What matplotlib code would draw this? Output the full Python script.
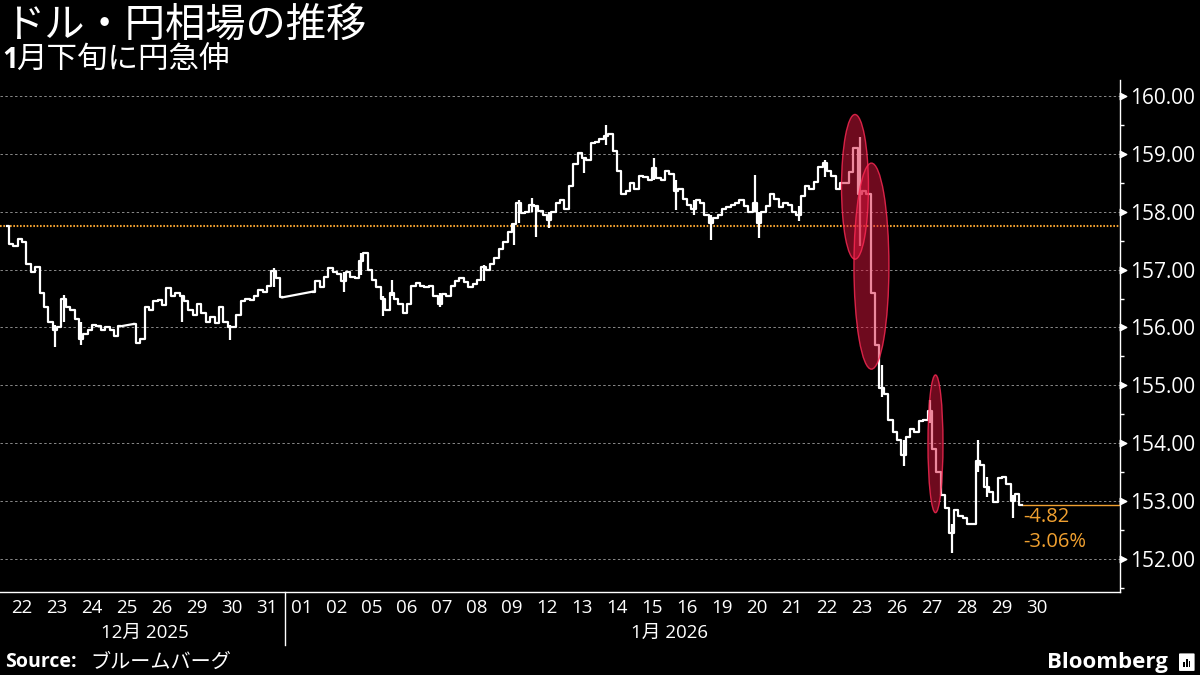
import matplotlib as mpl
mpl.use("Agg")
import matplotlib.pyplot as plt
from matplotlib.patches import Ellipse, FancyBboxPatch, Rectangle
from matplotlib.transforms import blended_transform_factory
import numpy as np

# USD/JPY, 8 intraday samples per trading day (None = no trading)
dec22 = [157.76, 157.45, 157.40, 157.52, 157.48, 157.10, 156.95, 157.05]
dec23 = [156.60, 156.35, 156.10, 155.95, 156.00, 156.50, 156.35, 156.30]
dec24 = [156.15, 155.80, 155.88, 155.95, 156.05, 156.02, 155.95, 156.00]
dec25 = [155.95, 155.85, 156.02, None, None, 156.06, 155.73, 155.80]
dec26 = [156.35, 156.30, 156.45, 156.48, 156.38, 156.68, 156.55, 156.60]
dec29 = [156.55, 156.45, 156.30, 156.22, 156.40, 156.25, 156.10, 156.18]
dec30 = [156.08, 156.35, 156.10, 156.00, 156.00, 156.22, 156.45, 156.50]
dec31 = [156.48, 156.55, 156.65, 156.62, 156.72, 156.98, 156.85, 156.52]
jan01 = [None, None, None, None, None, None, 156.62, 156.80]
jan02 = [156.70, 156.88, 157.02, 156.95, 156.92, 156.80, 156.95, 156.88]
jan05 = [156.85, 157.15, 157.28, 157.00, 156.82, 156.70, 156.50, 156.30]
jan06 = [156.60, 156.50, 156.40, 156.25, 156.40, 156.72, 156.77, 156.72]
jan07 = [156.70, 156.72, 156.55, 156.40, 156.58, 156.55, 156.72, 156.80]
jan08 = [156.85, 156.78, 156.70, 156.75, 156.82, 157.05, 157.00, 157.10]
jan09 = [157.20, 157.35, 157.48, 157.65, 157.78, 158.15, 157.98, 158.00]
jan12 = [158.12, 158.10, 158.02, 157.95, 157.85, 158.00, 158.15, 158.20]
jan13 = [158.05, 158.45, 158.82, 159.02, 158.92, 158.90, 159.18, 159.20]
jan14 = [159.25, 159.30, 159.35, 159.05, 158.70, 158.30, 158.35, 158.50]
jan15 = [158.40, 158.62, 158.60, 158.55, 158.75, 158.58, 158.55, 158.70]
jan16 = [158.65, 158.35, 158.40, 158.22, 158.12, 158.05, 158.20, 158.15]
jan19 = [157.95, 157.80, 157.90, 157.95, 158.05, 158.08, 158.12, 158.15]
jan20 = [158.20, 158.10, 158.00, 158.15, 157.80, 158.00, 158.10, 158.30]
jan21 = [158.22, 158.08, 158.15, 158.12, 158.00, 157.95, 158.28, 158.45]
jan22 = [158.40, 158.52, 158.78, 158.85, 158.70, 158.62, 158.40, 158.50]
jan23 = [158.50, 158.68, 159.10, 158.30, 158.35, 158.30, 156.60, 155.70]
jan26 = [154.95, 154.85, 154.40, 154.20, 154.05, 153.80, 154.10, 154.25]
jan27 = [154.20, 154.38, 154.40, 154.55, 153.90, 153.50, 153.10, 152.88]
jan28 = [152.45, 152.85, 152.75, 152.70, 152.60, 152.60, 153.70, 153.62]
jan29 = [153.25, 153.15, 152.98, 153.40, 153.42, 153.30, 153.00, 153.12]
jan30 = [152.94]

days = [dec22, dec23, dec24, dec25, dec26, dec29, dec30, dec31,
        jan01, jan02, jan05, jan06, jan07, jan08, jan09, jan12, jan13,
        jan14, jan15, jan16, jan19, jan20, jan21, jan22, jan23, jan26,
        jan27, jan28, jan29, jan30]
day_labels = ["22", "23", "24", "25", "26", "29", "30", "31",
              "01", "02", "05", "06", "07", "08", "09", "12", "13",
              "14", "15", "16", "19", "20", "21", "22", "23", "26",
              "27", "28", "29", "30"]
months = ["12月 2025", "1月 2026"]
month_first_day = [0, 8]
slots = 8

# intraday extremes: (day index, slot, low, high)
wicks = [(1, 3, 155.66, 156.05), (1, 5, 156.10, 156.56), (2, 1, 155.70, 156.10),
         (5, 0, 156.10, 156.56), (6, 3, 155.78, 156.05), (7, 5, 156.70, 157.03),
         (9, 5, 156.62, 156.95), (10, 1, 156.90, 157.29), (10, 6, 156.20, 156.55),
         (11, 0, 156.55, 156.82), (12, 3, 156.36, 156.60), (13, 5, 156.80, 157.08),
         (14, 4, 157.43, 157.80), (14, 5, 157.80, 158.20), (15, 0, 158.00, 158.24),
         (15, 1, 157.56, 158.12), (15, 4, 157.72, 158.00), (16, 4, 158.67, 158.95),
         (17, 1, 159.15, 159.50), (18, 4, 158.55, 158.93), (19, 1, 158.03, 158.55),
         (19, 5, 157.95, 158.20), (20, 1, 157.51, 157.95), (21, 3, 158.00, 158.64),
         (21, 4, 157.55, 158.00), (22, 5, 157.84, 158.10), (23, 3, 158.60, 158.90),
         (24, 3, 157.40, 159.29), (25, 0, 154.80, 155.35), (25, 5, 153.60, 154.05),
         (26, 3, 154.35, 154.75), (27, 0, 152.10, 152.60), (27, 6, 153.50, 154.06),
         (28, 0, 153.07, 153.42), (28, 6, 152.71, 153.10)]

# highlighted moves: (center day, center price, width days, height yen)
highlights = [(24.30, 158.43, 0.77, 2.50),
              (24.77, 157.06, 1.00, 3.56),
              (26.60, 153.99, 0.43, 2.38)]

BG = "black"
ORANGE = "#f0a030"
plt.rcParams['font.family'] = ['Open Sans', 'Noto Sans CJK JP', 'DejaVu Sans']

# build series
xs, ys = [], []
for i, d in enumerate(days):
    for k, v in enumerate(d):
        xs.append(i + (k + 0.5) / slots)
        ys.append(v)

fig = plt.figure(figsize=(12, 6.75), dpi=100, facecolor=BG)
ax = fig.add_axes([0, 0.123, 0.9333, 0.7585], facecolor=BG)

# split into runs at gaps, runs drawn as steps, gaps as straight lines
runs, cur = [], []
for x, y in zip(xs, ys):
    if y is None:
        if cur:
            runs.append(cur)
            cur = []
    else:
        cur.append((x, y))
if cur:
    runs.append(cur)
for j, r in enumerate(runs):
    rx, ry = zip(*r)
    ax.plot(rx, ry, color="white", lw=1.6, drawstyle="steps-mid", zorder=3)
    if j > 0:
        px, py = runs[j - 1][-1]
        ax.plot([px, rx[0]], [py, ry[0]], color="white", lw=1.6, zorder=3)

wx = [d + (k + 0.5) / slots for d, k, lo, hi in wicks]
ax.vlines(wx, [w[2] for w in wicks], [w[3] for w in wicks], color="white",
          lw=1.6, zorder=3)

valid = [(x, y) for x, y in zip(xs, ys) if y is not None]
first = valid[0][1]
last_x, last = valid[-1]

xmin, xmax = -0.129, 31.871
ax.set_xlim(xmin, xmax)
ax.set_ylim(151.43, 160.276)

# grid + reference line
for lvl in range(152, 161):
    ax.axhline(lvl, color="#8a8a8a", lw=0.7, ls=(0, (2.5, 2.5)), zorder=1)
ax.axhline(first, color=ORANGE, lw=1.5, ls=(0, (0.8, 0.8)), zorder=2)
ax.hlines(last, last_x, xmax, color=ORANGE, lw=1.0, zorder=2)
ax.annotate("%.2f" % (last - first), xy=(last_x, last), xytext=(1, -9),
            textcoords="offset points", color=ORANGE, fontsize=14.5,
            ha="left", va="center")
ax.annotate("%.2f%%" % ((last - first) / first * 100), xy=(last_x, last),
            xytext=(1, -27), textcoords="offset points", color=ORANGE,
            fontsize=14.5, ha="left", va="center")

for cx, cy, w, h in highlights:
    ax.add_patch(Ellipse((cx, cy), w, h, facecolor="#dc143c", alpha=0.5,
                         edgecolor="none", zorder=4))
    ax.add_patch(Ellipse((cx, cy), w, h, facecolor="none",
                         edgecolor="#ff2a55", lw=1.0, alpha=0.8, zorder=5))

# spines / axes
for s in ["left", "top"]:
    ax.spines[s].set_visible(False)
for s in ["right", "bottom"]:
    ax.spines[s].set_color("white")
    ax.spines[s].set_linewidth(1.0)
ax.yaxis.tick_right()
ax.set_yticks(range(152, 161))
ax.set_yticklabels(["%.2f" % v for v in range(152, 161)])
ax.set_yticks(np.arange(151.5, 160.1, 1.0), minor=True)
ax.tick_params(axis="y", which="major", length=0, pad=7, colors="white",
               labelsize=15)
ax.tick_params(axis="y", which="minor", length=3, width=1, colors="white")
ax.set_xticks([])
ytrans = blended_transform_factory(ax.transAxes, ax.transData)
ax.scatter([1.0028] * 9, list(range(152, 161)), marker=">", s=22,
           color="white", transform=ytrans, clip_on=False, zorder=6)

xtrans = blended_transform_factory(ax.transData, ax.transAxes)
for i, lab in enumerate(day_labels):
    ax.annotate(lab, xy=(i + 0.5, 0), xycoords=xtrans, xytext=(0, -11.5),
                textcoords="offset points", ha="center", va="center",
                color="white", fontsize=13.5)
bounds = month_first_day + [len(days)]
for m, lab in enumerate(months):
    ax.annotate(lab, xy=((bounds[m] + bounds[m + 1]) / 2, 0), xycoords=xtrans,
                xytext=(0, -29.5), textcoords="offset points", ha="center",
                va="center", color="white", fontsize=13.5)
ax.plot([month_first_day[1]] * 2, [0, -53 / 512], transform=xtrans,
        color="white", lw=1, clip_on=False)

# titles
fig.text(0.003, 0.963, "ドル・円相場の推移", color="white", fontsize=29,
         va="center", ha="left", family=["Noto Sans CJK JP"])
fig.text(0.002, 0.911, "1", color="white", fontsize=20, fontweight="bold",
         va="center", ha="left", family=["Open Sans"])
fig.text(0.0135, 0.911, "月下旬に円急伸", color="white", fontsize=22,
         va="center", ha="left", family=["Noto Sans CJK JP"])
fig.text(0.004, 0.019, "Source:", color="white", fontsize=14,
         fontweight="bold", va="center", ha="left", family=["Open Sans"])
fig.text(0.075, 0.019, "ブルームバーグ", color="white", fontsize=14.5,
         va="center", ha="left", family=["Noto Sans CJK JP"])
fig.text(0.9735, 0.019, "Bloomberg", color="white", fontsize=16,
         fontweight="bold", va="center", ha="right", family=["Open Sans"])
fig.patches.append(FancyBboxPatch((0.9835, 0.007), 0.011, 0.024,
                                  boxstyle="round,pad=0.001",
                                  transform=fig.transFigure, facecolor="white",
                                  edgecolor="none"))
for bx, bh in [(0.9858, 0.007), (0.9882, 0.012), (0.9906, 0.009)]:
    fig.patches.append(Rectangle((bx, 0.012), 0.0014, bh,
                                 transform=fig.transFigure, facecolor="black"))

fig.savefig("out.png", dpi=100, facecolor=BG)
